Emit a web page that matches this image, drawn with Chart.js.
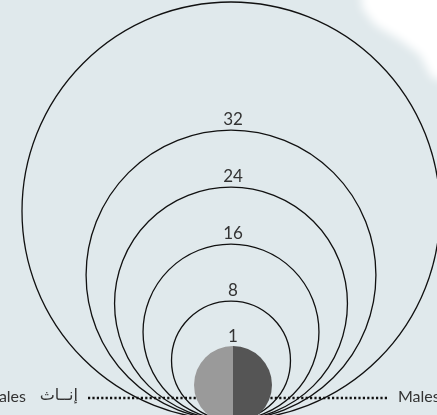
<!DOCTYPE html>
<html>
<head>
<meta charset="utf-8">
<script src="https://cdn.jsdelivr.net/npm/chart.js@4.4.1/dist/chart.umd.min.js"></script>
<style>
  html, body { margin: 0; padding: 0; overflow: hidden; background: #e0e9ec; }
  #wrap { position: relative; width: 437px; height: 415px; overflow: hidden; }
  #main { position: absolute; left: 0; top: 0; }
  #pie { position: absolute; left: 194px; top: 346px; }
</style>
</head>
<body>
<div id="wrap">
  <canvas id="main" width="437" height="415"></canvas>
  <canvas id="pie" width="78" height="78"></canvas>
</div>
<script>
// ---- data ----
const circleValues = [1, 8, 16, 24, 32, 50];
const circleLabels = ['1', '8', '16', '24', '32', ''];
const genderEn = ['Males', 'Females'];
const genderAr = ['ذكور', 'إنــاث'];
const genderValues = [50, 50];

// size legend mapping (value -> radius in axis units)
const R0 = 31, RK = 3.56;
function radiusFor(v) { return R0 + RK * v; }

const bgPlugin = {
  id: 'bg',
  beforeDraw(chart) {
    const ctx = chart.ctx;
    ctx.save();
    ctx.fillStyle = '#e0e9ec';
    ctx.fillRect(0, 0, chart.width, chart.height);
    ctx.filter = 'blur(5px)';
    ctx.fillStyle = '#ffffff';
    ctx.beginPath();
    ctx.moveTo(360, -20);
    ctx.lineTo(362, 8);
    ctx.lineTo(375, 25);
    ctx.lineTo(400, 40);
    ctx.lineTo(420, 55);
    ctx.lineTo(432, 78);
    ctx.lineTo(460, 85);
    ctx.lineTo(460, -20);
    ctx.closePath();
    ctx.fill();
    ctx.restore();
  },
  beforeDatasetsDraw(chart) {
    const ctx = chart.ctx;
    ctx.save();
    ctx.strokeStyle = '#111111';
    ctx.lineWidth = 2.4;
    ctx.setLineDash([2.2, 2.2]);
    ctx.beginPath();
    ctx.moveTo(88, 398); ctx.lineTo(196, 398);
    ctx.moveTo(266, 398); ctx.lineTo(388, 398);
    ctx.stroke();
    ctx.setLineDash([]);
    ctx.fillStyle = '#333333';
    ctx.textBaseline = 'middle';
    ctx.textAlign = 'right';
    ctx.font = '16px "DejaVu Sans", sans-serif';
    ctx.fillText(genderAr[1], 78, 396);
    ctx.font = '16px Lato, sans-serif';
    ctx.fillText(genderEn[1], 26, 397);
    ctx.textAlign = 'left';
    ctx.fillText(genderEn[0] + ' ' + genderAr[0], 398, 397);
    ctx.restore();
  },
  afterDatasetsDraw(chart) {
    const ctx = chart.ctx;
    const xs = chart.scales.x, ys = chart.scales.y;
    ctx.save();
    ctx.fillStyle = '#333333';
    ctx.font = '17px Lato, sans-serif';
    ctx.textAlign = 'center';
    ctx.textBaseline = 'alphabetic';
    circleValues.forEach((v, i) => {
      const px = xs.getPixelForValue(0);
      const py = ys.getPixelForValue(2 * radiusFor(v));
      const lbl = circleLabels[i];
      if (lbl) ctx.fillText(lbl, px + 2, (i === 0 ? 342 : py - 5));
    });
    ctx.restore();
  }
};

new Chart(document.getElementById('main'), {
  type: 'scatter',
  data: {
    datasets: [{
      data: circleValues.map(v => ({ x: 0, y: radiusFor(v) })),
      pointRadius: (c) => {
        const ys = c.chart.scales.y;
        if (!ys) return 0;
        const v = circleValues[c.dataIndex];
        return ys.getPixelForValue(0) - ys.getPixelForValue(radiusFor(v));
      },
      pointHoverRadius: (c) => {
        const ys = c.chart.scales.y;
        const v = circleValues[c.dataIndex];
        return ys.getPixelForValue(0) - ys.getPixelForValue(radiusFor(v));
      },
      pointBackgroundColor: 'rgba(0,0,0,0)',
      pointBorderColor: '#111111',
      pointBorderWidth: 1.3,
      clip: false
    }]
  },
  options: {
    responsive: false,
    animation: false,
    events: [],
    layout: { padding: 0 },
    plugins: { legend: { display: false }, tooltip: { enabled: false } },
    scales: {
      x: { type: 'linear', display: false, min: -231, max: 206 },
      y: { type: 'linear', display: false, min: 5, max: 420 }
    }
  },
  plugins: [bgPlugin]
});

new Chart(document.getElementById('pie'), {
  type: 'pie',
  data: {
    labels: genderEn,
    datasets: [{
      data: genderValues,
      backgroundColor: ['#555555', '#9a9a9a'],
      borderWidth: 0
    }]
  },
  options: {
    responsive: false,
    animation: false,
    events: [],
    layout: { padding: 0 },
    plugins: { legend: { display: false }, tooltip: { enabled: false } }
  }
});
</script>
</body>
</html>
